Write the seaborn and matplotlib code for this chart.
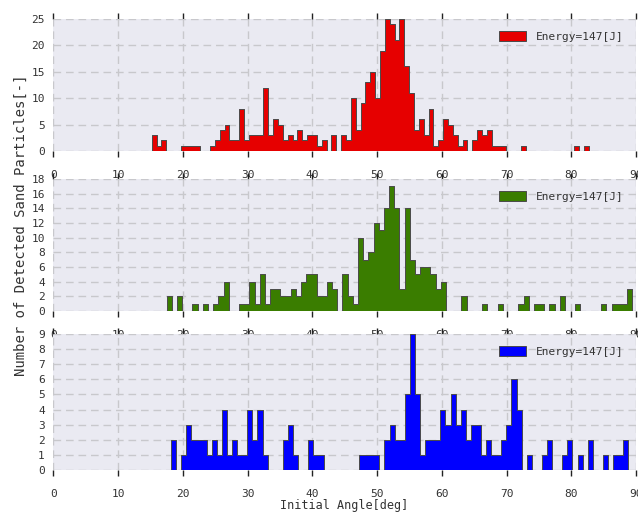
import numpy as np
import pandas as pd
import matplotlib
matplotlib.use("Agg")
import matplotlib.pyplot as plt
from matplotlib.patches import Rectangle
import seaborn as sns

# ---- data (histogram counts, 90 bins spanning each series' min..max) ----
red_counts = [3, 1, 2, 0, 0, 0, 1, 1, 1, 1,
              0, 0, 1, 2, 4, 5, 2, 2, 8, 2,
              3, 3, 3, 12, 3, 6, 5, 2, 3, 2,
              4, 2, 3, 3, 1, 2, 0, 3, 0, 3,
              2, 10, 4, 9, 13, 15, 10, 19, 25, 24,
              21, 25, 16, 11, 4, 6, 3, 8, 1, 2,
              6, 5, 3, 1, 2, 0, 2, 4, 3, 4,
              1, 1, 1, 0, 0, 0, 1, 0, 0, 0,
              0, 0, 0, 0, 0, 0, 0, 1, 0, 1]
red_range = (15.2, 82.7)

green_counts = [2, 0, 2, 0, 0, 1, 0, 1, 0, 1,
                2, 4, 0, 0, 1, 1, 4, 1, 5, 1,
                3, 3, 2, 2, 3, 2, 4, 5, 5, 2,
                2, 4, 3, 0, 5, 2, 1, 10, 7, 8,
                12, 11, 14, 17, 14, 3, 14, 7, 5, 6,
                6, 5, 3, 4, 0, 0, 0, 2, 0, 0,
                0, 1, 0, 0, 1, 0, 0, 0, 1, 2,
                0, 1, 1, 0, 1, 0, 2, 0, 0, 1,
                0, 0, 0, 0, 1, 0, 1, 1, 1, 3]
green_range = (17.5, 89.4)

blue_counts = [2, 0, 1, 3, 2, 2, 2, 1, 2, 1,
               4, 1, 2, 1, 1, 4, 2, 4, 1, 0,
               0, 0, 2, 3, 1, 0, 0, 2, 1, 1,
               0, 0, 0, 0, 0, 0, 0, 1, 1, 1,
               1, 0, 2, 3, 2, 2, 5, 9, 5, 1,
               2, 2, 2, 4, 3, 5, 3, 4, 2, 3,
               3, 1, 2, 1, 1, 2, 3, 6, 4, 0,
               1, 0, 0, 1, 2, 0, 0, 1, 2, 0,
               1, 0, 2, 0, 0, 1, 0, 1, 1, 2]
blue_range = (18.2, 88.8)

x_ticks = [0, 10, 20, 30, 40, 50, 60, 70, 80, 90]
red_yticks = [0, 5, 10, 15, 20, 25]
green_yticks = [0, 2, 4, 6, 8, 10, 12, 14, 16, 18]
blue_yticks = [0, 1, 2, 3, 4, 5, 6, 7, 8, 9]

legend_label = "Energy=147[J]"
x_label = "Initial Angle[deg]"
y_label = "Number of Detected Sand Particles[-]"

# ---- style ----
sns.set_theme(style="darkgrid")
plt.rcParams["font.family"] = ["DejaVu Sans Mono", "DejaVu Sans"]
plt.rcParams["axes.facecolor"] = "#EAEAF2"

fig = plt.figure(figsize=(6.38, 5.13), dpi=100)

panels = [
    (red_counts, red_range, "#E60000", red_yticks, [0.0835, 0.7057, 0.9135, 0.2573]),
    (green_counts, green_range, "#3A7D00", green_yticks, [0.0835, 0.3938, 0.9135, 0.2572]),
    (blue_counts, blue_range, "#0000FF", blue_yticks, [0.0835, 0.0838, 0.9135, 0.2652]),
]

for counts, (lo, hi), color, yticks, pos in panels:
    ax = fig.add_axes(pos)
    edges = np.linspace(lo, hi, len(counts) + 1)
    centers = (edges[:-1] + edges[1:]) / 2
    df = pd.DataFrame({"angle": centers, "count": np.asarray(counts, dtype=float)})
    sns.histplot(data=df, x="angle", weights="count", bins=edges.tolist(),
                 element="step", fill=True, color=color, alpha=1,
                 edgecolor="#4a4a4a", linewidth=0.7, ax=ax)
    ax.set_xlim(0, 90)
    ax.set_ylim(0, yticks[-1])
    ax.set_xticks(x_ticks)
    ax.set_xticklabels([str(t) for t in x_ticks])
    ax.set_yticks(yticks)
    ax.set_yticklabels([str(t) for t in yticks])
    ax.set_xlabel("")
    ax.set_ylabel("")
    ax.grid(True, color="#c8c8cc", linestyle=(0, (5.5, 3.5)), linewidth=1)
    ax.set_axisbelow(True)
    for s in ax.spines.values():
        s.set_visible(False)
    ax.tick_params(axis="x", which="major", bottom=True, top=True,
                   direction="out", length=4, width=1, color="#222222",
                   pad=9.5, labelsize=8, labelcolor="#333333")
    ax.tick_params(axis="y", which="major", left=False, length=0, pad=6,
                   labelsize=8, labelcolor="#333333")
    handle = ax.collections[0]
    # hide the outline segment lying on the zero baseline
    clip = Rectangle((0, 0.006), 1, 0.994, transform=ax.transAxes,
                     facecolor="none", edgecolor="none")
    ax.add_patch(clip)
    handle.set_clip_path(clip)
    ax.legend([handle], [legend_label], loc="upper right", frameon=False,
              fontsize=8, handlelength=2.4, handleheight=1.0,
              handletextpad=0.9, borderaxespad=0.7,
              labelcolor="#333333")

fig.text(0.033, 1 - 225 / 513, y_label, rotation=90, ha="center", va="center",
         fontsize=10, color="#333333")
fig.text(0.54, 1 - 506 / 513, x_label, ha="center", va="center",
         fontsize=8.5, color="#333333")

fig.savefig("out.png", dpi=100)
